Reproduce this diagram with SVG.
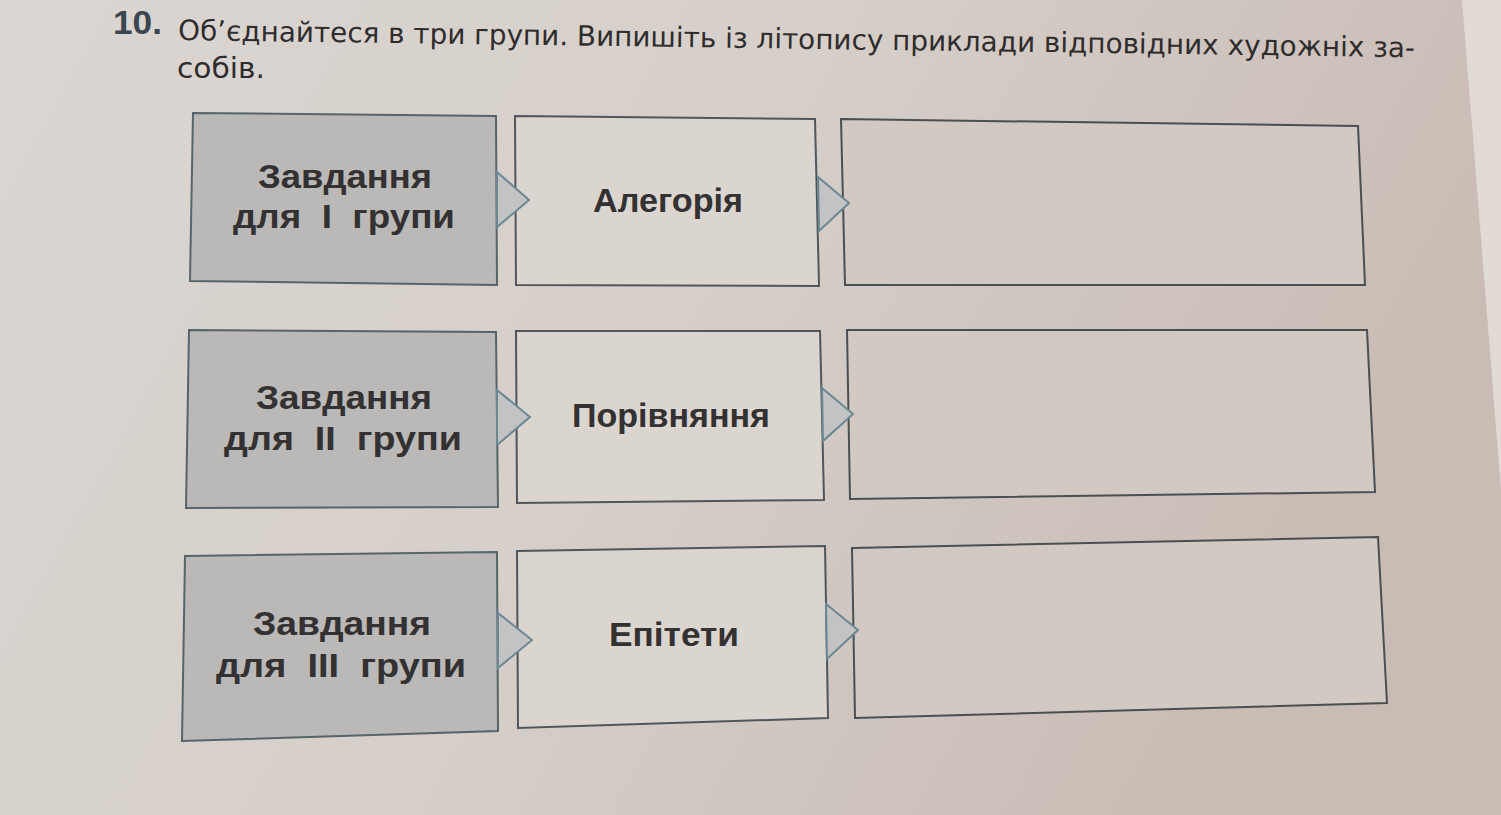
<svg xmlns="http://www.w3.org/2000/svg" width="1501" height="815" viewBox="0 0 1501 815">
<defs>
<linearGradient id="bg" x1="0" y1="0" x2="1" y2="0.3">
<stop offset="0" stop-color="#dbd6d2"/>
<stop offset="0.5" stop-color="#d6cfca"/>
<stop offset="1" stop-color="#c9bcb5"/>
</linearGradient>
<style>
.grey{fill:#bab9b7;stroke:#56646b;stroke-width:2}
.box{fill:#dbd5d0;stroke:#4f575c;stroke-width:2}
.box3{fill:#d2c9c3;stroke:#4a4f52;stroke-width:2}
.arr{fill:#c3c3c3;stroke:#6b8794;stroke-width:2;stroke-linejoin:miter}
.t{font-family:"Liberation Sans",Arial,sans-serif;font-weight:bold;fill:#333131;font-size:33px;white-space:pre}
.h{font-family:"DejaVu Sans","Liberation Sans",sans-serif;fill:#2e2c2c;font-size:28px}
</style>
</defs>
<rect width="1501" height="815" fill="url(#bg)"/>
<polygon points="1462,0 1501,0 1501,490" fill="#e2dad4"/>
<g id="heading">
<text x="113" y="34" font-family="Liberation Sans,Arial,sans-serif" font-weight="bold" font-size="33" fill="#3c4650" textLength="49" lengthAdjust="spacingAndGlyphs">10.</text>
<text class="h" x="178" y="40" transform="rotate(0.8 178 40)" textLength="1237" lengthAdjust="spacingAndGlyphs">Об’єднайтеся в три групи. Випишіть із літопису приклади відповідних художніх за-</text>
<text class="h" x="177" y="78" textLength="88" lengthAdjust="spacingAndGlyphs">собів.</text>
</g>
<g id="task1">
<polygon class="grey" points="193,113 496,116 497,285 190,281"/>
<text class="t" x="258" y="188" textLength="174" lengthAdjust="spacingAndGlyphs">Завдання</text>
<text class="t" x="233" y="228" textLength="222" lengthAdjust="spacingAndGlyphs" xml:space="preserve">для  I  групи</text>
</g>
<g id="allegory">
<polygon class="box" points="515,116 815,119 819,286 516,285"/>
<text class="t" x="593" y="212" textLength="150" lengthAdjust="spacingAndGlyphs">Алегорія</text>
</g>
<g id="answer1">
<polygon class="box3" points="841,119 1358,126 1365,285 845,285"/>
</g>
<g id="task2">
<polygon class="grey" points="189,330 496,332 498,507 186,508"/>
<text class="t" x="256" y="409" textLength="176" lengthAdjust="spacingAndGlyphs">Завдання</text>
<text class="t" x="224" y="450" textLength="238" lengthAdjust="spacingAndGlyphs" xml:space="preserve">для  II  групи</text>
</g>
<g id="comparison">
<polygon class="box" points="516,331 820,331 824,500 517,503"/>
<text class="t" x="572" y="427" textLength="198" lengthAdjust="spacingAndGlyphs">Порівняння</text>
</g>
<g id="answer2">
<polygon class="box3" points="847,330 1367,330 1375,492 850,499"/>
</g>
<g id="task3">
<polygon class="grey" points="185,556 497,552 498,731 182,741"/>
<text class="t" x="253" y="635" textLength="178" lengthAdjust="spacingAndGlyphs">Завдання</text>
<text class="t" x="216" y="677" textLength="250" lengthAdjust="spacingAndGlyphs" xml:space="preserve">для  III  групи</text>
</g>
<g id="epithets">
<polygon class="box" points="517,551 825,546 828,718 518,728"/>
<text class="t" x="609" y="646" textLength="130" lengthAdjust="spacingAndGlyphs">Епітети</text>
</g>
<g id="answer3">
<polygon class="box3" points="852,548 1378,537 1387,703 855,718"/>
</g>
<g id="connectors">
<polygon class="arr" points="497,172 529,200 497,227"/>
<polygon class="arr" points="818,177 849,203 819,231"/>
<polygon class="arr" points="497,390 530,417 497,445"/>
<polygon class="arr" points="822,388 853,414 823,441"/>
<polygon class="arr" points="498,613 532,640 498,668"/>
<polygon class="arr" points="826,604 858,630 827,659"/>
</g>
</svg>
